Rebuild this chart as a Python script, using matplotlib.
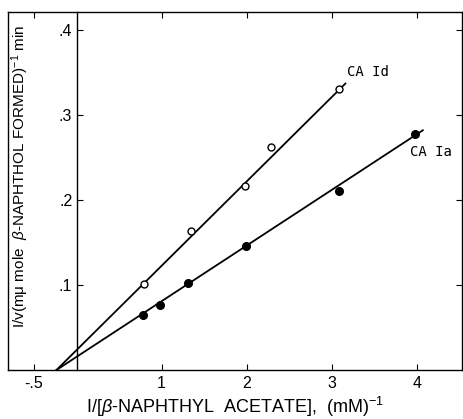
import numpy as np
import matplotlib
matplotlib.use('Agg')
from matplotlib import pyplot as plt

plt.rcParams['font.family'] = ['Liberation Sans', 'DejaVu Sans']
plt.rcParams['mathtext.fontset'] = 'custom'
plt.rcParams['mathtext.rm'] = 'Liberation Sans'
plt.rcParams['mathtext.it'] = 'Liberation Sans:italic'

# CA Id (open circles)
id_x = [0.79, 1.34, 1.98, 2.29, 3.09]
id_y = [0.101, 0.164, 0.216, 0.262, 0.330]
# CA Ia (filled circles)
ia_x = [0.785, 0.985, 1.31, 1.99, 3.08, 3.98]
ia_y = [0.065, 0.077, 0.102, 0.146, 0.211, 0.278]

# drawn fit lines (x-intercept and end point)
id_line_x = [-0.235, 3.16]
id_line_y = [0.0, 0.337]
ia_line_x = [-0.235, 4.07]
ia_line_y = [0.0, 0.282]

xticks = [-0.5, 1, 2, 3, 4]
xticklabels = ['-.5', '1', '2', '3', '4']
yticks = [0.1, 0.2, 0.3, 0.4]
yticklabels = ['.1', '.2', '.3', '.4']

fig = plt.figure(figsize=(4.63, 4.19), dpi=100)
ax = fig.add_axes([0.0173, 0.117, 0.9805, 0.854])

ax.plot(id_line_x, id_line_y, color='black', lw=1.3)
ax.plot(ia_line_x, ia_line_y, color='black', lw=1.3)
ax.plot(id_x, id_y, 'o', ms=5, mfc='white', mec='black', mew=1.0)
ax.plot(ia_x, ia_y, 'o', ms=5.5, mfc='black', mec='black')

ax.set_xlim(-0.805, 4.53)
ax.set_ylim(0, 0.421)

# y axis drawn at x=0, outer frame kept
ax.spines['left'].set_position(('data', 0))
ax.plot([0, 0], [0, 1], color='black', lw=1.0, transform=ax.transAxes, clip_on=False)
for s in ['top', 'right', 'bottom', 'left']:
    ax.spines[s].set_linewidth(1.0)

ax.set_xticks(xticks)
ax.set_xticklabels(xticklabels)
ax.set_yticks(yticks)
ax.set_yticklabels(yticklabels)
ax.tick_params(axis='both', direction='in', length=4, width=0.8, labelsize=11.5,
               top=True, right=True)
ax.tick_params(axis='x', pad=4)
ax.tick_params(axis='y', pad=3)

ax.text(3.18, 0.351, 'CA Id', family='DejaVu Sans Mono', fontsize=10,
        va='center', ha='left')
ax.text(3.92, 0.257, 'CA Ia', family='DejaVu Sans Mono', fontsize=10,
        va='center', ha='left')

ax.set_xlabel(r'I/[$\beta$-NAPHTHYL  ACETATE],  (mM)$^{-1}$', fontsize=13, labelpad=3)
ax.set_ylabel(r'I/v(mμ mole  $\beta$-NAPHTHOL FORMED)$^{-1}$ min', fontsize=11)
ax.yaxis.set_label_coords(0.05, 0.54)

plt.savefig('out.png', dpi=100)
